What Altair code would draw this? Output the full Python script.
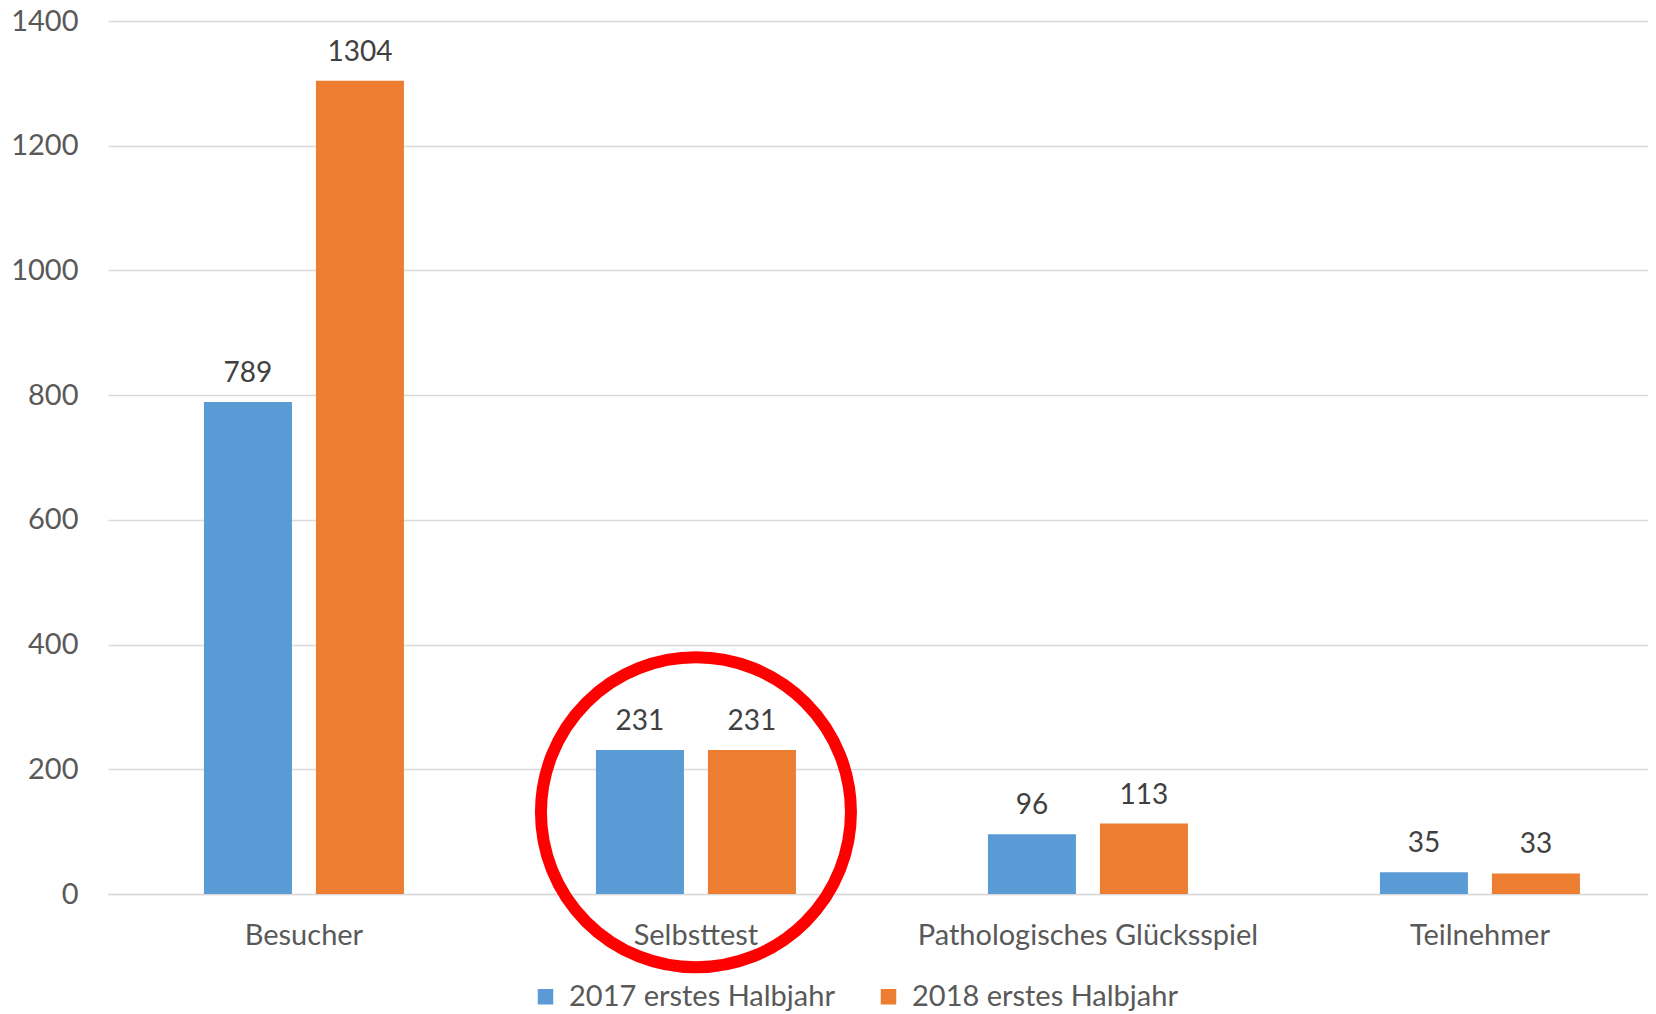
import altair as alt
import pandas as pd

# ---- data ----
categories = ["Besucher", "Selbsttest", "Pathologisches Glücksspiel", "Teilnehmer"]
series = ["2017 erstes Halbjahr", "2018 erstes Halbjahr"]
values_2017 = [789, 231, 96, 35]
values_2018 = [1304, 231, 113, 33]
colors = ["#5b9bd5", "#ed7d31"]
y_ticks = [0, 200, 400, 600, 800, 1000, 1200, 1400]
highlight_category = ["Selbsttest"]
highlight_value = [131]

rows = []
for c, a, b in zip(categories, values_2017, values_2018):
    rows.append({"cat": c, "series": series[0], "value": a})
    rows.append({"cat": c, "series": series[1], "value": b})
df = pd.DataFrame(rows)
hl = pd.DataFrame({"cat": highlight_category, "value": highlight_value})

FONT = "Lato"
LABEL_GRAY = "#595959"
GRID = "#d9d9d9"

x = alt.X(
    "cat:N",
    sort=categories,
    scale=alt.Scale(paddingInner=0.4898, paddingOuter=0.2092, align=0.585),
    axis=alt.Axis(
        title=None, labelAngle=0, labelFont=FONT, labelFontSize=29,
        labelColor=LABEL_GRAY, labelPadding=27, ticks=False, labelLimit=0,
        domainColor=GRID, domainWidth=1.5, grid=False,
    ),
)
y = alt.Y(
    "value:Q",
    scale=alt.Scale(domain=[0, 1400], nice=False),
    axis=alt.Axis(
        title=None, values=y_ticks, format="d", labelFont=FONT, labelFontSize=29,
        labelColor=LABEL_GRAY, labelPadding=30, ticks=False, domain=False,
        gridColor=GRID, gridWidth=1.5,
    ),
)
xo = alt.XOffset("series:N", sort=series,
                 scale=alt.Scale(paddingInner=0.2143, paddingOuter=0))

bars = alt.Chart(df).mark_bar().encode(
    x=x, y=y, xOffset=xo,
    color=alt.Color(
        "series:N", sort=series,
        scale=alt.Scale(domain=series, range=colors),
        legend=alt.Legend(
            orient="none", legendX=423, legendY=961, direction="horizontal",
            title=None, symbolType="square", symbolSize=240, labelLimit=0,
            symbolStrokeWidth=0, labelFont=FONT, labelFontSize=29,
            labelColor=LABEL_GRAY, columnPadding=39, labelOffset=9,
        ),
    ),
)

labels = alt.Chart(df).mark_text(
    font=FONT, fontSize=28, color="#404040", baseline="alphabetic", dy=-20
).encode(x=x, y=y, xOffset=xo, text=alt.Text("value:Q"))

circle = alt.Chart(hl).mark_point(
    shape="circle", filled=False, stroke="#ff0000", strokeWidth=12,
    size=96100, opacity=1,
).encode(x=x, y=y)

chart = (
    alt.layer(bars, labels, circle)
    .properties(
        width=1540, height=873,
        autosize=alt.AutoSizeParams(type="none"),
        padding={"left": 100, "top": 13, "right": 0, "bottom": 118},
    )
    .configure_view(stroke=None)
)

chart.save("out.html", embed_options={"renderer": "svg", "actions": False})
